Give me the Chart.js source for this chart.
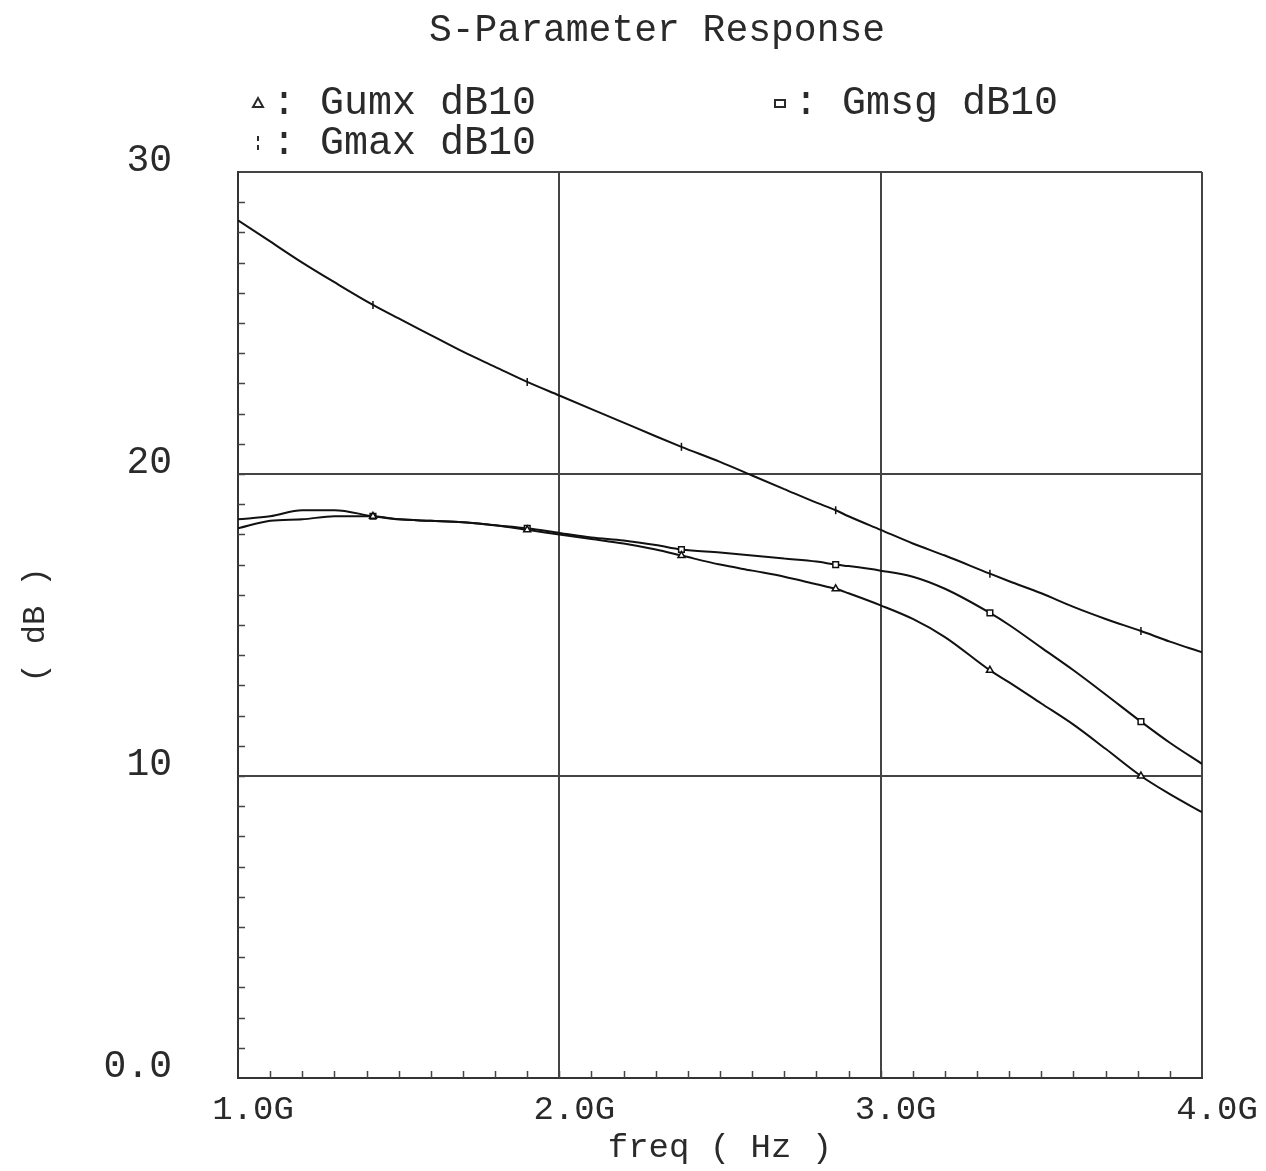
<!DOCTYPE html>
<html>
<head>
<meta charset="utf-8">
<title>S-Parameter Response</title>
<script src="https://cdn.jsdelivr.net/npm/chart.js@4.4.1/dist/chart.umd.min.js"></script>
<style>
    html, body { margin: 0; padding: 0; background: #fff; }
    #wrap { position: relative; width: 1266px; height: 1171px; }
</style>
</head>
<body>
<div id="wrap"><canvas id="spChart"></canvas></div>
<script>
// S-parameter gain curves (freq in GHz, gain in dB)
const freqs  = [1.0, 1.1, 1.2, 1.3, 1.42, 1.5, 1.6, 1.7, 1.8, 1.9, 2.0, 2.1, 2.2, 2.3, 2.38, 2.5,
                2.6, 2.7, 2.8, 2.86, 2.9, 3.0, 3.1, 3.2, 3.34, 3.4, 3.5, 3.6, 3.7, 3.81, 3.9, 4.0];
const gmaxDb = [28.4, 27.7, 27.0, 26.35, 25.6, 25.15, 24.6, 24.05, 23.55, 23.05, 22.6, 22.15, 21.7, 21.25, 20.9, 20.4,
                19.95, 19.5, 19.05, 18.8, 18.6, 18.15, 17.7, 17.3, 16.7, 16.45, 16.05, 15.6, 15.2, 14.8, 14.45, 14.1];
const gmsgDb = [18.5, 18.6, 18.8, 18.8, 18.6, 18.5, 18.45, 18.4, 18.3, 18.2, 18.05, 17.9, 17.8, 17.65, 17.5, 17.4,
                17.3, 17.2, 17.1, 17.0, 16.95, 16.8, 16.6, 16.2, 15.4, 15.0, 14.25, 13.5, 12.7, 11.8, 11.1, 10.4];
const gumxDb = [18.2, 18.45, 18.5, 18.6, 18.6, 18.5, 18.45, 18.4, 18.3, 18.15, 18.0, 17.85, 17.7, 17.5, 17.3, 17.0,
                16.8, 16.6, 16.35, 16.2, 16.05, 15.65, 15.2, 14.6, 13.5, 13.1, 12.4, 11.7, 10.9, 10.0, 9.4, 8.8];
const markerFreqs = [1.42, 1.9, 2.38, 2.86, 3.34, 3.81];

const xTicks = [1, 2, 3, 4];
const xTickLabels = ['1.0G', '2.0G', '3.0G', '4.0G'];
const yTicks = [0, 10, 20, 30];
const yTickLabels = ['0.0', '10', '20', '30'];

const FONT = "'Liberation Mono', 'DejaVu Sans Mono', monospace";
const INK = '#2a2a2a';

function toPoints(values) {
    return freqs.map((f, i) => ({ x: f, y: values[i] }));
}

function markerRadius(ctx) {
    const f = freqs[ctx.dataIndex];
    return markerFreqs.indexOf(f) >= 0 ? 4 : 0;
}

// small inward ticks every 1 dB and every 0.1 GHz
const minorTicks = {
    id: 'minorTicks',
    beforeDatasetsDraw(chart) {
        const { ctx, chartArea: a, scales: { x, y } } = chart;
        ctx.save();
        ctx.strokeStyle = '#444';
        ctx.lineWidth = 1.5;
        ctx.beginPath();
        for (let v = 1; v < 30; v++) {
            const py = Math.round(y.getPixelForValue(v)) + 0.5;
            ctx.moveTo(a.left, py);
            ctx.lineTo(a.left + 7, py);
        }
        for (let i = 1; i < 30; i++) {
            const px = Math.round(x.getPixelForValue(1 + i * 0.1)) + 0.5;
            ctx.moveTo(px, a.bottom);
            ctx.lineTo(px, a.bottom - 7);
        }
        ctx.stroke();
        ctx.restore();
    }
};

function drawSymbol(ctx, style, cx, cy) {
    ctx.beginPath();
    if (style === 'triangle') {
        ctx.moveTo(cx, cy - 5);
        ctx.lineTo(cx + 5, cy + 4);
        ctx.lineTo(cx - 5, cy + 4);
        ctx.closePath();
    } else if (style === 'rect') {
        ctx.rect(cx - 5, cy - 3, 10, 7);
    } else {
        ctx.moveTo(cx, cy - 7);
        ctx.lineTo(cx, cy - 2);
        ctx.moveTo(cx, cy + 2);
        ctx.lineTo(cx, cy + 7);
    }
    ctx.stroke();
}

// title and the two-column legend of the original plot
const header = {
    id: 'header',
    afterDraw(chart) {
        const ctx = chart.ctx;
        ctx.save();
        ctx.fillStyle = INK;
        ctx.strokeStyle = INK;
        ctx.lineWidth = 2;
        ctx.textBaseline = 'middle';
        ctx.textAlign = 'center';
        ctx.font = '38px ' + FONT;
        ctx.fillText('S-Parameter Response', 657, 31);

        const slots = [[248, 103], [770, 103], [248, 143]];
        ctx.textAlign = 'left';
        ctx.font = '40px ' + FONT;
        chart.data.datasets.forEach((ds, i) => {
            const [lx, ly] = slots[i];
            drawSymbol(ctx, ds.pointStyle, lx + 10, ly);
            ctx.fillText(': ' + ds.label, lx + 24, ly);
        });
        ctx.restore();
    }
};

const ctx = document.getElementById('spChart').getContext('2d');
const spChart = new Chart(ctx, {
    type: 'line',
    data: {
        datasets: [
            {
                label: 'Gumx dB10',
                data: toPoints(gumxDb),
                pointStyle: 'triangle'
            },
            {
                label: 'Gmsg dB10',
                data: toPoints(gmsgDb),
                pointStyle: 'rect'
            },
            {
                label: 'Gmax dB10',
                data: toPoints(gmaxDb),
                pointStyle: 'line',
                rotation: 90
            }
        ]
    },
    options: {
        responsive: true,
        maintainAspectRatio: false,
        animation: false,
        layout: { padding: { top: 172, right: 64, bottom: 0, left: 0 } },
        elements: {
            line: { borderColor: '#111', borderWidth: 2, cubicInterpolationMode: 'monotone', fill: false },
            point: {
                radius: markerRadius,
                hoverRadius: markerRadius,
                borderColor: '#111',
                backgroundColor: '#fff',
                borderWidth: 1.5
            }
        },
        plugins: {
            legend: { display: false },
            title: { display: false },
            tooltip: { enabled: false }
        },
        scales: {
            x: {
                type: 'linear',
                min: 1,
                max: 4,
                afterBuildTicks: scale => { scale.ticks = xTicks.map(v => ({ value: v })); },
                afterFit: scale => { scale.height = 93; },
                grid: { color: '#444', lineWidth: 2, drawTicks: false },
                border: { display: true, color: '#333', width: 2 },
                ticks: {
                    callback: (v, i) => xTickLabels[i],
                    color: INK,
                    font: { family: FONT, size: 34 },
                    padding: 12,
                    labelOffset: 15,
                    maxRotation: 0
                },
                title: {
                    display: true,
                    text: 'freq ( Hz )',
                    color: INK,
                    font: { family: FONT, size: 34 },
                    padding: { top: 0, bottom: 3 }
                }
            },
            y: {
                min: 0,
                max: 30,
                afterBuildTicks: scale => { scale.ticks = yTicks.map(v => ({ value: v })); },
                afterFit: scale => { scale.width = 238; },
                grid: { color: '#444', lineWidth: 2, drawTicks: false },
                border: { display: true, color: '#333', width: 2 },
                ticks: {
                    callback: (v, i) => yTickLabels[i],
                    color: INK,
                    font: { family: FONT, size: 38 },
                    padding: 66,
                    labelOffset: -11
                },
                title: {
                    display: true,
                    text: '( dB )',
                    color: INK,
                    font: { family: FONT, size: 32 },
                    padding: { top: 16, bottom: 0 }
                }
            }
        }
    },
    plugins: [minorTicks, header]
});
</script>
</body>
</html>
